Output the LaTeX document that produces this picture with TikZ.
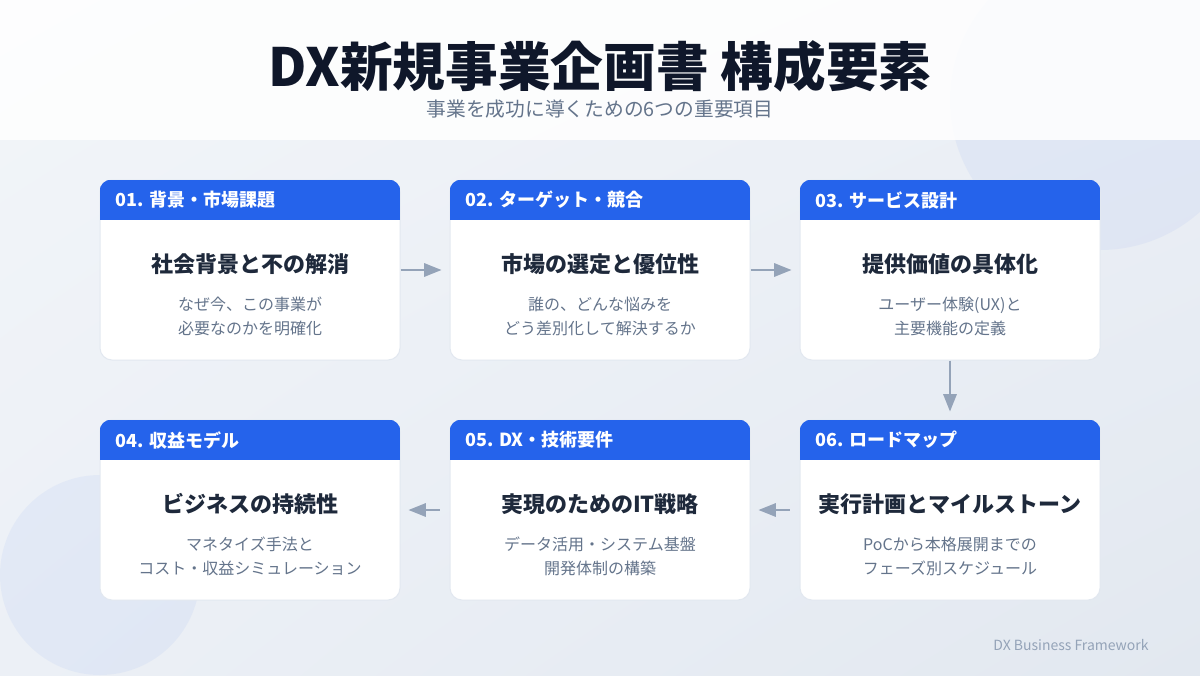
\documentclass[tikz,border=0pt]{standalone}
\usepackage{fontspec}
\setmainfont{Noto Sans CJK JP}
\usetikzlibrary{arrows.meta,positioning,shadings}

\tikzset{every picture/.style={line width=0.75pt}}
\tikzset{
  card/.style={draw={rgb,255:red,226;green,232;blue,240}, fill=white, rounded corners=9pt, minimum width=225pt, minimum height=135pt, inner sep=0pt},
  band/.style={fill={rgb,255:red,37;green,99;blue,235}},
  tag/.style={anchor=west, inner sep=0.75pt, text=white, font=\fontsize{13.5}{16}\selectfont\bfseries},
  head/.style={inner sep=0.75pt, text={rgb,255:red,30;green,41;blue,59}, font=\fontsize{16.5}{20}\selectfont\bfseries},
  note/.style={inner sep=0.75pt, align=center, text={rgb,255:red,100;green,116;blue,139}, font=\fontsize{12}{18}\selectfont},
  flow/.style={draw={rgb,255:red,148;green,163;blue,184}, line width=1.5pt, -{Triangle[length=13pt,width=10pt]}, shorten >=6pt},
  blob/.style={fill={rgb,255:red,37;green,99;blue,235}, fill opacity=0.05},
}

\begin{document}
\begin{tikzpicture}[x=0.75pt,y=0.75pt,yscale=-1,xscale=1]
%set diagram left start at 0, and has height of 675
\path [use as bounding box] (0,0) rectangle (1200,675);

%Shape: Rectangle [background]
\shade [upper left={rgb,255:red,242;green,245;blue,249}, upper right={rgb,255:red,236;green,240;blue,246}, lower left={rgb,255:red,236;green,240;blue,246}, lower right={rgb,255:red,226;green,232;blue,240}] (0,0) rectangle (1200,675);
%Shape: Circle
\fill [blob] (1100,100) circle (150);
%Shape: Circle
\fill [blob] (100,575) circle (100);
%Shape: Rectangle [header]
\fill [white, opacity=0.85] (0,0) rectangle (1200,140);

% Text Node
\node (title) [inner sep=0.75pt, text={rgb,255:red,15;green,23;blue,42}, font=\fontsize{39.5}{48}\selectfont\bfseries] at (600,66) {DX新規事業企画書 構成要素};
% Text Node
\node (sub) [inner sep=0.75pt, text={rgb,255:red,100;green,116;blue,139}, font=\fontsize{14.8}{18}\selectfont] at (600,109) {事業を成功に導くための6つの重要項目};

%Rounded Rect
\node (c1) [card] at (250,270) {};
\node (c2) [card] at (600,270) {};
\node (c3) [card] at (950,270) {};
\node (c4) [card] at (250,510) {};
\node (c5) [card] at (600,510) {};
\node (c6) [card] at (950,510) {};

%Shape: Rectangle [blue bands]
\begin{scope}
\clip [rounded corners=9pt] (c1.north west) rectangle (c1.south east);
\fill [band] (c1.north west) rectangle ++(300,40);
\end{scope}
\begin{scope}
\clip [rounded corners=9pt] (c2.north west) rectangle (c2.south east);
\fill [band] (c2.north west) rectangle ++(300,40);
\end{scope}
\begin{scope}
\clip [rounded corners=9pt] (c3.north west) rectangle (c3.south east);
\fill [band] (c3.north west) rectangle ++(300,40);
\end{scope}
\begin{scope}
\clip [rounded corners=9pt] (c4.north west) rectangle (c4.south east);
\fill [band] (c4.north west) rectangle ++(300,40);
\end{scope}
\begin{scope}
\clip [rounded corners=9pt] (c5.north west) rectangle (c5.south east);
\fill [band] (c5.north west) rectangle ++(300,40);
\end{scope}
\begin{scope}
\clip [rounded corners=9pt] (c6.north west) rectangle (c6.south east);
\fill [band] (c6.north west) rectangle ++(300,40);
\end{scope}

% Text Node
\node (h1) [tag] at (114,200) {01. 背景・市場課題};
\node (h2) [tag] at (464,200) {02. ターゲット・競合};
\node (h3) [tag] at (814,200) {03. サービス設計};
\node (h4) [tag] at (114,440) {04. 収益モデル};
\node (h5) [tag] at (464,440) {05. DX・技術要件};
\node (h6) [tag] at (814,440) {06. ロードマップ};

% Text Node
\node (t1) [head] at (250,264) {社会背景と不の解消};
\node (t2) [head] at (600,264) {市場の選定と優位性};
\node (t3) [head] at (950,264) {提供価値の具体化};
\node (t4) [head] at (250,504) {ビジネスの持続性};
\node (t5) [head] at (600,504) {実現のためのIT戦略};
\node (t6) [head] at (950,504) {実行計画とマイルストーン};

% Text Node
\node (d1) [note] at (250,316) {なぜ今、この事業が\\必要なのかを明確化};
\node (d2) [note] at (600,316) {誰の、どんな悩みを\\どう差別化して解決するか};
\node (d3) [note] at (950,316) {ユーザー体験(UX)と\\主要機能の定義};
\node (d4) [note] at (250,556) {マネタイズ手法と\\コスト・収益シミュレーション};
\node (d5) [note] at (600,556) {データ活用・システム基盤\\開発体制の構築};
\node (d6) [note] at (950,556) {PoCから本格展開までの\\フェーズ別スケジュール};

%Straight Lines
\draw [flow] (c1) -- (c2);
\draw [flow] (c2) -- (c3);
\draw [flow] (c3) -- (c6);
\draw [flow, shorten <=7.5pt] (c6) -- (c5);
\draw [flow, shorten <=7.5pt] (c5) -- (c4);

% Text Node
\node (foot) [anchor=east, inner sep=0.75pt, text={rgb,255:red,148;green,163;blue,184}, font=\fontsize{10.5}{12}\selectfont] at (1150,645) {DX Business Framework};
\end{tikzpicture}
\end{document}
